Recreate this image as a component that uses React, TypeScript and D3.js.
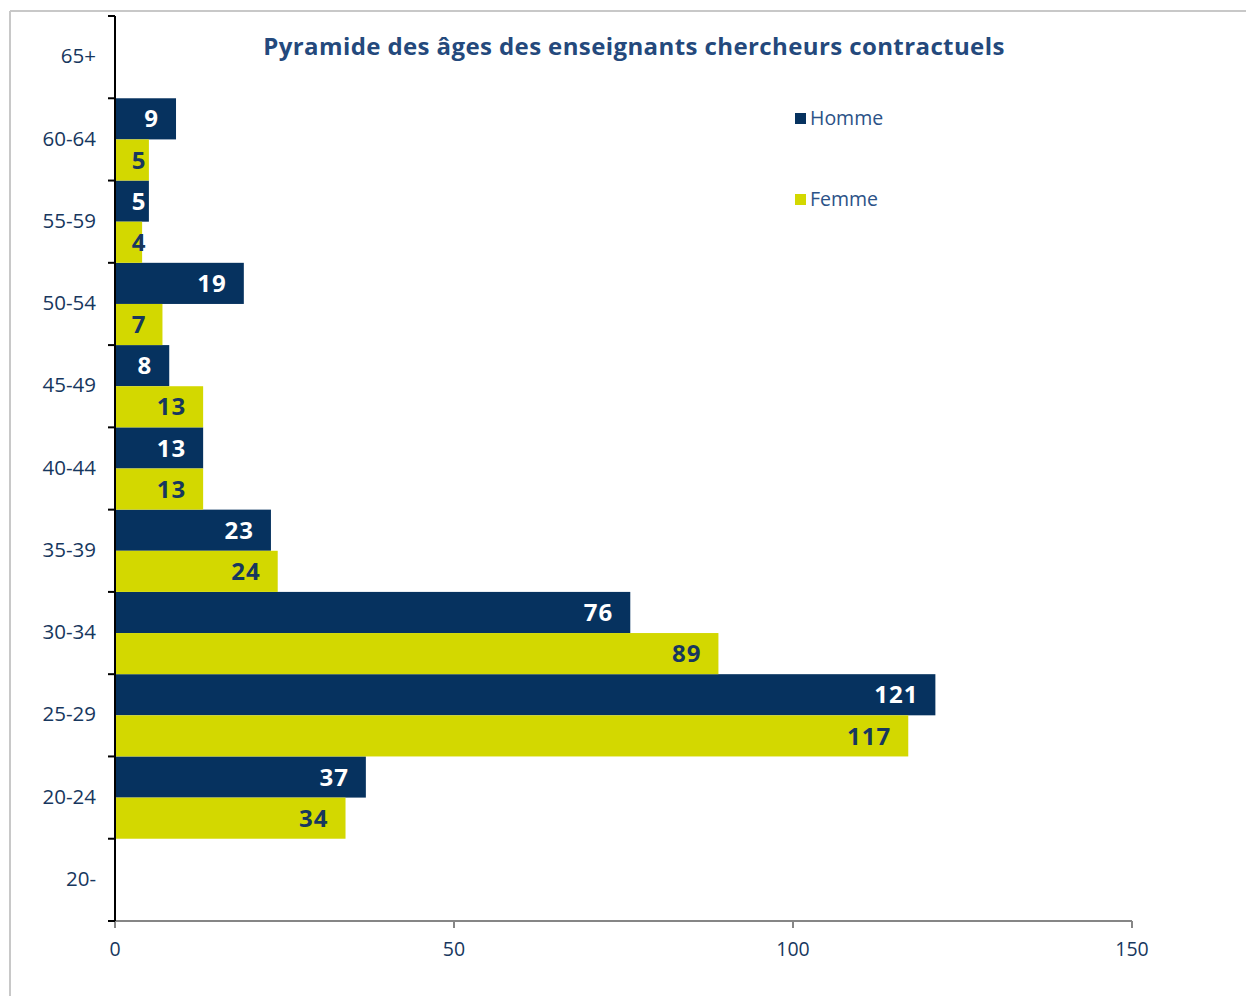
import React from "react";
import * as d3 from "d3";

const categories = ["65+", "60-64", "55-59", "50-54", "45-49", "40-44", "35-39", "30-34", "25-29", "20-24", "20-"];
const homme: (number | null)[] = [null, 9, 5, 19, 8, 13, 23, 76, 121, 37, null];
const femme: (number | null)[] = [null, 5, 4, 7, 13, 13, 24, 89, 117, 34, null];
const seriesNames = ["Homme", "Femme"];
const xTicks = [0, 50, 100, 150];
const title = "Pyramide des âges des enseignants chercheurs contractuels";

const W = 1246;
const H = 996;
const FONT = "'Open Sans', 'DejaVu Sans', sans-serif";
const NAVY = "#06325F";
const YELLOW = "#D3D800";
const TEXT = "#17375E";

export default function App() {
  const x = d3.scaleLinear().domain([0, 150]).range([115, 1132]);
  const y = d3.scaleBand<string>().domain(categories).range([16, 921]).padding(0);
  const inner = d3.scaleBand<string>().domain(seriesNames).range([0, y.bandwidth()]).padding(0);
  const colors: Record<string, string> = { Homme: NAVY, Femme: YELLOW };
  const labelColors: Record<string, string> = { Homme: "#FFFFFF", Femme: TEXT };
  const data: Record<string, (number | null)[]> = { Homme: homme, Femme: femme };

  const boundaries = categories.map((c) => y(c) as number).concat([921]);

  return (
    <svg
      width={W}
      height={H}
      style={{ position: "absolute", left: 0, top: 0, background: "#fff" }}
      fontFamily={FONT}
    >
      <rect x={0} y={0} width={W} height={H} fill="#fff" />
      {/* frame */}
      <line x1={10} y1={11} x2={W} y2={11} stroke="#C8C8C8" strokeWidth={2} />
      <line x1={10} y1={11} x2={10} y2={H} stroke="#C8C8C8" strokeWidth={2} />

      {/* title */}
      <text x={634} y={55} textAnchor="middle" fill="#24497C" fontSize={24} fontWeight="bold" letterSpacing={0.4}>
        {title}
      </text>

      {/* bars */}
      {seriesNames.map((s) =>
        categories.map((c, i) => {
          const v = data[s][i];
          if (v == null) return null;
          const y0 = (y(c) as number) + (inner(s) as number);
          return (
            <rect
              key={s + c}
              x={x(0)}
              y={y0}
              width={x(v) - x(0)}
              height={inner.bandwidth()}
              fill={colors[s]}
            />
          );
        })
      )}

      {/* value labels */}
      {seriesNames.map((s) =>
        categories.map((c, i) => {
          const v = data[s][i];
          if (v == null) return null;
          const yc = (y(c) as number) + (inner(s) as number) + inner.bandwidth() / 2;
          const w = String(v).length * 14.5;
          const xe = Math.max(x(v) - 17, 132 + w);
          return (
            <text
              key={"l" + s + c}
              x={xe}
              y={yc}
              dy="0.36em"
              textAnchor="end"
              fill={labelColors[s]}
              fontSize={24}
              fontWeight="bold"
              letterSpacing={1}
            >
              {v}
            </text>
          );
        })
      )}

      {/* x axis */}
      <line x1={x(0)} y1={921} x2={x(150)} y2={921} stroke="#868686" strokeWidth={2} />
      {xTicks.map((t) => (
        <g key={"xt" + t}>
          <line x1={x(t)} y1={921} x2={x(t)} y2={928} stroke="#868686" strokeWidth={2} />
          <text x={x(t)} y={956} textAnchor="middle" fill={TEXT} fontSize={19.5}>
            {t}
          </text>
        </g>
      ))}

      {/* y axis */}
      <line x1={115} y1={16} x2={115} y2={921} stroke="#000" strokeWidth={2} />
      {boundaries.map((b, i) => (
        <line key={"yt" + i} x1={108} y1={b} x2={115} y2={b} stroke="#000" strokeWidth={2} />
      ))}
      {categories.map((c) => (
        <text
          key={"yl" + c}
          x={96}
          y={(y(c) as number) + y.bandwidth() / 2}
          dy="0.3em"
          textAnchor="end"
          fill={TEXT}
          fontSize={20.5}
        >
          {c}
        </text>
      ))}

      {/* legend */}
      {seriesNames.map((s, i) => (
        <g key={"lg" + s} transform={`translate(795, ${113 + i * 81})`}>
          <rect x={0} y={0} width={11} height={11} fill={colors[s]} />
          <text x={15} y={5.5} dy="0.32em" fill="#2B5287" fontSize={19.5}>
            {s}
          </text>
        </g>
      ))}
    </svg>
  );
}
